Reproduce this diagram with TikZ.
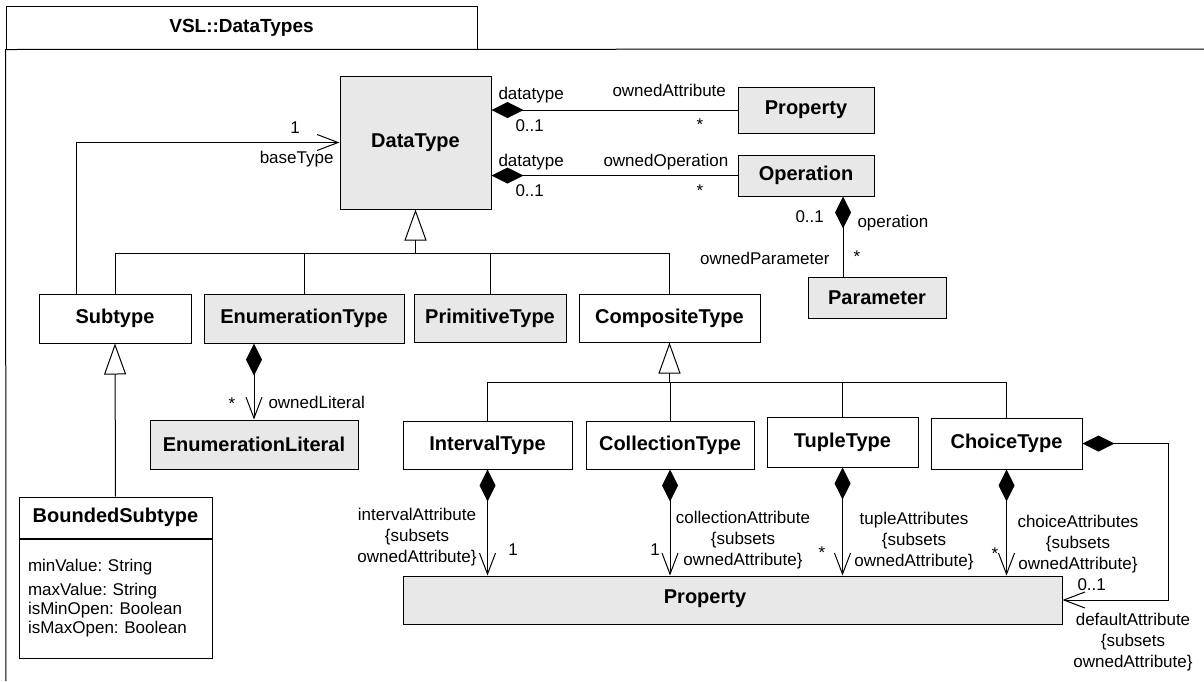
\documentclass[tikz,border=0pt]{standalone}
\usepackage{fontspec}
\setmainfont{Liberation Sans}
\usetikzlibrary{arrows.meta,positioning}
\definecolor{clsgray}{HTML}{E8E8E8}
\newcommand{\clsfont}{\fontsize{10}{12}\selectfont\bfseries}
\newcommand{\lblfont}{\fontsize{8.5}{10.5}\selectfont}
\newcommand{\attrfont}{\fontsize{8.5}{9.5}\selectfont\frenchspacing}
\tikzset{
	cls/.style={draw, fill=white, inner sep=0pt, font=\clsfont},
	clsg/.style={cls, fill=clsgray},
	lbl/.style={inner sep=0pt, font=\lblfont},
	gen/.style={-{Triangle[open,length=15.5pt,width=11pt]}},
	comp/.style={{Diamond[length=16pt,width=8pt]}-{Straight Barb[length=10.5pt,width=8pt]}},
	compn/.style={{Diamond[length=16pt,width=8pt]}-},
	nav/.style={-{Straight Barb[length=10.5pt,width=8pt]}}
}
\begin{document}
\begin{tikzpicture}[x=0.5pt, y=-0.5pt, line width=0.5pt, line join=miter]
	\useasboundingbox (0,0) rectangle (1204,681);
	% package frame
	\node[draw, inner sep=0pt, minimum width=235.5pt, minimum height=21.5pt, font=\fontsize{9.5}{11}\selectfont\bfseries] (pkg) at (241.5,27.5) {VSL::DataTypes};
	\draw (6,681) -- (pkg.south west) -- (1204,49);
	% classes
	\node[clsg, minimum width=75.5pt, minimum height=66.5pt] (DataType) at (415.5,142.5) {DataType};
	\node[clsg, minimum width=68pt, minimum height=23pt] (Prop) at (806,110) {Property};
	\node[clsg, minimum width=68pt, minimum height=20.5pt] (Operation) at (806,175.5) {Operation};
	\node[clsg, minimum width=69pt, minimum height=20.5pt] (Parameter) at (877,297.5) {Parameter};
	\node[cls, minimum width=76pt, minimum height=24.5pt] (Subtype) at (115,318.5) {Subtype};
	\node[clsg, minimum width=100pt, minimum height=24.5pt] (EnumType) at (304,318.5) {EnumerationType};
	\node[clsg, minimum width=76pt, minimum height=24pt] (PrimType) at (490,318) {PrimitiveType};
	\node[cls, minimum width=90.5pt, minimum height=24pt] (CompType) at (669.5,318) {CompositeType};
	\node[clsg, minimum width=104pt, minimum height=24.5pt] (EnumLit) at (254,444.5) {EnumerationLiteral};
	\node[cls, minimum width=84.5pt, minimum height=24pt] (IntType) at (487.5,445) {IntervalType};
	\node[cls, minimum width=84pt, minimum height=24pt] (CollType) at (670,445) {CollectionType};
	\node[cls, minimum width=75.5pt, minimum height=25pt] (TupType) at (842.5,442) {TupleType};
	\node[cls, minimum width=75.5pt, minimum height=25.5pt] (ChoType) at (1006.5,443.5) {ChoiceType};
	\node[clsg, minimum width=329.5pt, minimum height=24pt] (BProp) at (732.5,600) {};
	\node[inner sep=0pt, font=\clsfont] (BPropTxt) at (705,599) {Property};
	\node[cls, minimum width=96.5pt, minimum height=20.5pt] (BSub) at (115.5,517.5) {BoundedSubtype};
	\node[cls, font=\attrfont, below=0pt of BSub, minimum height=59.5pt, text width=87.5pt, inner xsep=4.5pt, align=left] (BSubAttr) {minValue: String\\[2.5pt] maxValue: String\\ isMinOpen: Boolean\\ isMaxOpen: Boolean};
	% generalizations
	\coordinate (dtbar) at (DataType.south |- 0,253);
	\draw[gen] (dtbar) -- (DataType.south);
	\foreach \c in {Subtype,EnumType,PrimType,CompType} \draw (\c.north) |- (dtbar);
	\coordinate (ctbar) at (CompType.south |- 0,382);
	\draw[gen] (ctbar) -- (CompType.south);
	\foreach \c in {IntType,CollType,TupType,ChoType} \draw (\c.north) |- (ctbar);
	\draw[gen] (BSub.north) -- (Subtype.south);
	% associations
	\draw[nav] ([xshift=-19.5pt]Subtype.north) |- (DataType.west);
	\draw[compn] (DataType.east |- Prop.west) -- (Prop.west);
	\draw[compn] (DataType.east |- Operation.west) -- (Operation.west);
	\draw[compn] ([xshift=18.5pt]Operation.south) -- ([xshift=18.5pt]Operation.south |- Parameter.north);
	\draw[comp] (EnumLit.north |- EnumType.south) -- (EnumLit.north);
	\foreach \c in {IntType,CollType,TupType,ChoType} \draw[comp] (\c.south) -- (\c.south |- BProp.north);
	\draw[comp] (ChoType.east) -- ++(86,0) |- (BProp.east);
	% role names and multiplicities
	\node[lbl, anchor=base] (l1) at (295,133) {1};
	\node[lbl, anchor=base east] (l2) at (334,163) {baseType};
	\node[lbl, anchor=base west] (l3) at (498,99) {datatype};
	\node[lbl, anchor=base west] (l4) at (515,131) {0..1};
	\node[lbl, anchor=base west] (l5) at (612,96) {ownedAttribute};
	\node[lbl, anchor=base] (l6) at (700,130) {*};
	\node[lbl, anchor=base west] (l7) at (498,166) {datatype};
	\node[lbl, anchor=base west] (l8) at (515,196) {0..1};
	\node[lbl, anchor=base west] (l9) at (603,166) {ownedOperation};
	\node[lbl, anchor=base] (l10) at (700,196) {*};
	\node[lbl, anchor=base west] (l11) at (795,222) {0..1};
	\node[lbl, anchor=base west] (l12) at (857,227) {operation};
	\node[lbl, anchor=base east] (l13) at (830,264) {ownedParameter};
	\node[lbl, anchor=base] (l14) at (857,262) {*};
	\node[lbl, anchor=base] (l15) at (232,409) {*};
	\node[lbl, anchor=base west] (l16) at (268,408) {ownedLiteral};
	\node[lbl, align=center] (l17) at (417,537) {intervalAttribute\\{\{}subsets\\ownedAttribute{\}}};
	\node[lbl, anchor=base] (l18) at (513,555) {1};
	\node[lbl, align=center] (l19) at (743,540) {collectionAttribute\\{\{}subsets\\ownedAttribute{\}}};
	\node[lbl, anchor=base] (l20) at (655,555) {1};
	\node[lbl, align=center] (l21) at (914,541) {tupleAttributes\\{\{}subsets\\ownedAttribute{\}}};
	\node[lbl, anchor=base] (l22) at (822,558) {*};
	\node[lbl, align=center] (l23) at (1078,544) {choiceAttributes\\{\{}subsets\\ownedAttribute{\}}};
	\node[lbl, anchor=base] (l24) at (995,559) {*};
	\node[lbl, anchor=base west] (l25) at (1077,590) {0..1};
	\node[lbl, align=center] (l26) at (1133,642) {defaultAttribute\\{\{}subsets\\ownedAttribute{\}}};
\end{tikzpicture}
\end{document}
